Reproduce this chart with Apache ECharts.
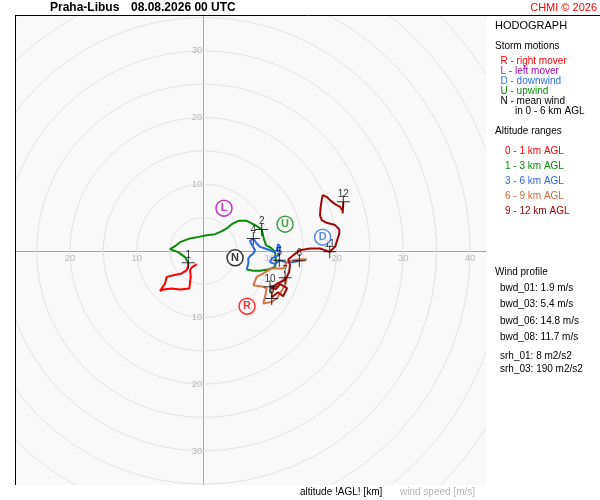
<!DOCTYPE html>
<html>
<head>
<meta charset="utf-8">
<script src="https://cdn.jsdelivr.net/npm/echarts@6/dist/echarts.min.js"></script>
<style>
html, body { margin: 0; padding: 0; background: #fff; }
#chart { width: 600px; height: 500px; }
</style>
</head>
<body>
<div id="chart"></div>
<script>
// wind speed rings and axis ticks [m/s]
const rings = [5, 10, 15, 20, 25, 30, 35, 40, 45, 50, 55];
const ticksU = [-20, -10, 10, 20, 30, 40];
const ticksV = [-30, -20, -10, 10, 20, 30];

// hodograph, [u, v] in m/s, one array per altitude range
const layer0_1 = [[-0.99, -2.0], [-1.74, -2.49], [-2.0, -2.9], [-1.89, -3.9], [-2.1, -5.64], [-3.5, -5.79],
    [-4.74, -5.64], [-6.0, -5.79], [-6.5, -6.0], [-5.75, -4.89], [-5.49, -3.9], [-4.5, -3.65],
    [-3.24, -3.39], [-2.49, -2.9], [-2.25, -2.15], [-2.25, -1.8]];
const layer1_3 = [[-2.25, -1.8], [-2.75, -0.95], [-3.8, -0.2], [-5.0, 0.25], [-4.25, 0.7], [-3.5, 1.3],
    [-2.0, 1.86], [-0.5, 2.13], [0.5, 2.35], [1.76, 2.5], [2.8, 2.95], [3.5, 3.36], [4.26, 4.0],
    [5.25, 4.5], [6.5, 4.5], [7.26, 4.1], [7.9, 3.78], [8.76, 3.2], [8.9, 2.6], [9.1, 1.71],
    [9.4, 0.85], [10.26, 0.36], [10.75, -0.2], [10.9, -1.4], [10.75, -2.4], [9.75, -2.79],
    [8.5, -3.0], [7.5, -3.0], [6.5, -2.79]];
const layer3_6 = [[6.5, -2.79], [6.75, -1.89], [6.75, -1.14], [7.0, -0.8], [7.5, -0.39], [7.76, 0.1],
    [7.3, 0.86], [7.0, 1.46], [7.5, 1.86], [8.0, 1.1], [8.5, 0.6], [9.25, 0.36], [10.0, 0.1],
    [10.6, -0.2], [11.05, 0.1], [11.2, 1.0], [11.5, 0.7], [11.36, -0.65], [10.3, -1.1], [10.0, -1.7],
    [10.75, -2.0], [11.4, -1.4], [12.26, -1.7], [13.3, -1.7], [14.4, -1.5]];
const layer6_9 = [[14.4, -1.5], [15.5, -1.25], [14.2, -1.3], [12.56, -1.65], [12.0, -2.64], [10.26, -2.64],
    [9.0, -3.39], [8.0, -3.9], [7.5, -5.15], [9.0, -5.4], [9.5, -5.64], [9.25, -6.9], [9.0, -7.9],
    [10.26, -7.65], [11.0, -7.14], [11.5, -6.4], [12.26, -5.15], [12.5, -4.4], [12.26, -4.05],
    [11.2, -5.0], [10.3, -5.9], [10.26, -6.95]];
const layer9_12 = [[10.26, -6.95], [11.2, -6.2], [11.96, -6.8], [12.56, -5.6], [11.5, -5.0], [10.9, -5.75],
    [10.2, -5.5], [11.2, -4.85], [12.26, -4.4], [12.86, -3.2], [13.0, -2.15], [12.75, -1.25],
    [13.5, -0.65], [14.5, 0.1], [16.0, 0.36], [17.5, 0.36], [18.26, 0.1], [18.96, -0.15], [19.76, 0.6],
    [20.0, 1.35], [20.4, 2.6], [20.4, 3.2], [19.76, 3.86], [18.5, 4.2], [17.76, 4.6], [17.5, 5.36],
    [17.6, 6.6], [17.76, 7.6], [17.9, 8.36], [18.5, 8.1], [19.0, 7.6], [19.76, 7.0], [20.5, 6.6],
    [20.9, 6.0], [20.9, 5.6], [21.0, 7.35]];

// altitude marks [u, v, km]
const levelMarks = [[-2.25, -1.8, '1'], [8.76, 3.2, '2'], [7.5, 1.86, '4'], [11.4, -1.4, '5'],
    [14.4, -1.5, '6'], [12.26, -4.05, '7'], [10.26, -7.14, '8'], [10.0, -5.4, '10'],
    [18.96, -0.15, '11'], [21.0, 7.35, '12']];

// storm motions
const stormNames = ['R', 'L', 'D', 'U', 'N'];
const stormMotion = [[6.56, -8.3], [3.1, 6.4], [17.9, 2.05], [12.26, 4.0], [4.76, -1.05]];

const stormColors = { R: '#ff0000', L: '#b400c0', D: '#2f6fe6', U: '#0a8a0a', N: '#000000' };
const layerColors = ['#ff0000', '#0a8a0a', '#2b66e0', '#d5744a', '#a00808'];
const FONT = '"Liberation Sans", Arial, sans-serif';

var myChart = echarts.init(document.getElementById('chart'));

function txt(x, y, text, color, size, weight, align) {
    return {
        type: 'text', x: x, y: y, silent: true, z: 100,
        style: {
            text: text, fill: color || '#000', align: align || 'left', verticalAlign: 'middle',
            font: (weight || 'normal') + ' ' + (size || 10) + 'px ' + FONT
        }
    };
}

var layerSeries = [layer0_1, layer1_3, layer3_6, layer6_9, layer9_12].map(function (d, i) {
    return {
        type: 'line', data: d, symbol: 'none', z: 3, silent: true,
        lineStyle: { color: layerColors[i], width: 2 }
    };
});

var option = {
    animation: false,
    backgroundColor: '#fff',
    grid: { left: 15, top: 15, width: 471, height: 470, show: true, backgroundColor: '#f9f9f9', borderWidth: 0 },
    xAxis: {
        type: 'value', min: -28.25, max: 42.4,
        axisLine: { show: true, onZero: true, lineStyle: { color: '#a8a8a8', width: 1 } },
        axisTick: { show: false }, axisLabel: { show: false }, splitLine: { show: false }
    },
    yAxis: {
        type: 'value', min: -35.1, max: 35.35,
        axisLine: { show: true, onZero: true, lineStyle: { color: '#a8a8a8', width: 1 } },
        axisTick: { show: false }, axisLabel: { show: false }, splitLine: { show: false }
    },
    series: [
        {
            // speed rings
            type: 'custom', clip: true, silent: true, z: 1,
            data: rings.map(function (r) { return [r, 0]; }),
            renderItem: function (params, api) {
                var c = api.coord([0, 0]);
                var r = api.size([api.value(0), 0])[0];
                return {
                    type: 'circle', shape: { cx: c[0], cy: c[1], r: r },
                    style: { fill: 'none', stroke: '#e3e3e3', lineWidth: 1 }
                };
            }
        },
        {
            type: 'scatter', symbolSize: 0, silent: true, z: 2,
            data: ticksU.map(function (t) { return [t, 0]; }),
            label: {
                show: true, position: 'bottom', distance: 3, color: '#aaaaaa', fontSize: 9.5, fontFamily: FONT,
                formatter: function (p) { return String(Math.abs(p.value[0])); }
            }
        },
        {
            type: 'scatter', symbolSize: 0, silent: true, z: 2,
            data: ticksV.map(function (t) { return [0, t]; }),
            label: {
                show: true, position: 'left', distance: 1, color: '#aaaaaa', fontSize: 9.5, fontFamily: FONT,
                formatter: function (p) { return String(Math.abs(p.value[1])); }
            }
        }
    ].concat(layerSeries).concat([
        {
            type: 'scatter', z: 5, silent: true,
            symbol: 'path://M6,0h1v6h6v1h-6v6h-1v-6h-6v-1h6z', symbolSize: 13,
            itemStyle: { color: '#000' },
            data: levelMarks,
            label: {
                show: true, position: 'inside', offset: [0, -8], color: '#000', fontSize: 10, fontFamily: FONT,
                formatter: function (p) { return p.value[2]; }
            }
        },
        {
            type: 'scatter', z: 6, silent: true, symbol: 'circle', symbolSize: 16,
            data: stormNames.map(function (n, i) {
                return {
                    name: n, value: stormMotion[i],
                    itemStyle: { color: '#fff', borderColor: stormColors[n], borderWidth: 1.5 },
                    label: { color: stormColors[n] }
                };
            }),
            label: {
                show: true, position: 'inside', fontSize: 11, fontWeight: 'bold', fontFamily: FONT,
                formatter: function (p) { return p.name; }
            }
        }
    ]),
    graphic: [
        { type: 'line', silent: true, z: 100, shape: { x1: 15, y1: 15.5, x2: 600, y2: 15.5 }, style: { stroke: '#000', lineWidth: 1 } },
        { type: 'line', silent: true, z: 100, shape: { x1: 15.5, y1: 15, x2: 15.5, y2: 485 }, style: { stroke: '#000', lineWidth: 1 } },
        txt(50, 8, 'Praha-Libus', '#000', 12, 'bold'),
        txt(131, 8, '08.08.2026 00 UTC', '#000', 12, 'bold'),
        txt(597, 8, 'CHMI © 2026', '#ff0000', 11, 'normal', 'right'),
        txt(495, 26, 'HODOGRAPH', '#000', 11),
        txt(495, 46.5, 'Storm motions', '#000', 10),
        txt(500.5, 61.5, 'R - right mover', stormColors.R, 10),
        txt(500.5, 71.5, 'L - left mover', stormColors.L, 10),
        txt(500.5, 81.5, 'D - downwind', stormColors.D, 10),
        txt(500.5, 91.5, 'U - upwind', stormColors.U, 10),
        txt(500.5, 101.5, 'N - mean wind', '#000', 10),
        txt(515, 111.5, 'in 0 - 6 km AGL', '#000', 10),
        txt(495, 131.5, 'Altitude ranges', '#000', 10),
        txt(505, 151.5, '0 - 1 km AGL', layerColors[0], 10),
        txt(505, 166.5, '1 - 3 km AGL', layerColors[1], 10),
        txt(505, 181.5, '3 - 6 km AGL', layerColors[2], 10),
        txt(505, 196.5, '6 - 9 km AGL', '#d0683a', 10),
        txt(505, 211.5, '9 - 12 km AGL', layerColors[4], 10),
        txt(495, 272.5, 'Wind profile', '#000', 10),
        txt(500, 288.5, 'bwd_01: 1.9 m/s', '#000', 10),
        txt(500, 304.5, 'bwd_03: 5.4 m/s', '#000', 10),
        txt(500, 321, 'bwd_06: 14.8 m/s', '#000', 10),
        txt(500, 337, 'bwd_08: 11.7 m/s', '#000', 10),
        txt(500, 356.5, 'srh_01: 8 m2/s2', '#000', 10),
        txt(500, 369.5, 'srh_03: 190 m2/s2', '#000', 10),
        txt(300, 492, 'altitude !AGL! [km]', '#000', 10),
        txt(400, 492, 'wind speed [m/s]', '#b4b4b4', 10)
    ]
};

myChart.setOption(option);
</script>
</body>
</html>
